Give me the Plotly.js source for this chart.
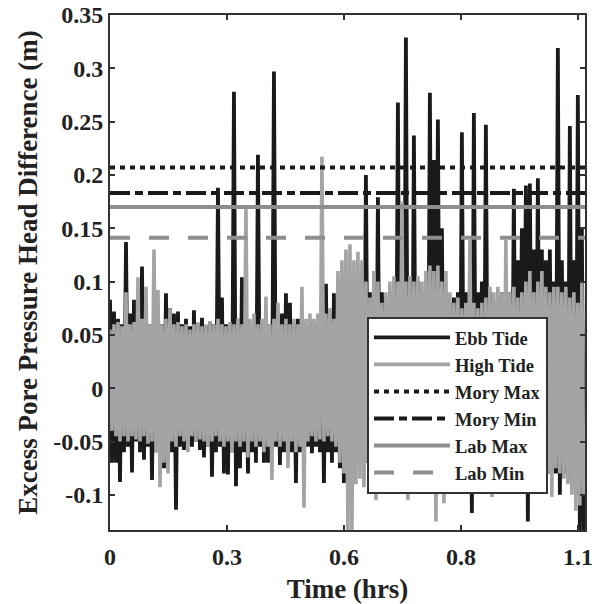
<!DOCTYPE html>
<html>
<head>
<meta charset="utf-8">
<script src="https://cdn.plot.ly/plotly-3.0.1.min.js"></script>
<style>html,body{margin:0;padding:0;background:#fff;}#chart{width:600px;height:604px;}</style>
</head>
<body>
<div id="chart"></div>
<script>
// ---- Data ----
// Sampling interval of the plotted record, in hours
const SAMPLE_STEP_HRS = 0.004748;
const X_RANGE = [0, 1.128];

// Ebb tide record: successive crest / trough readings (m)
const ebbCrests = [
  0.083,0.072,0.065,0.060,0.137,0.070,0.083,0.065,0.114,0.070,
  0.060,0.065,0.075,0.060,0.089,0.075,0.070,0.072,0.060,0.065,
  0.058,0.073,0.060,0.066,0.058,0.062,0.060,0.188,0.085,0.060,
  0.058,0.278,0.065,0.104,0.060,0.055,0.060,0.219,0.060,0.055,
  0.060,0.297,0.065,0.070,0.089,0.080,0.060,0.065,0.060,0.058,
  0.062,0.060,0.060,0.070,0.098,0.070,0.089,0.090,0.080,0.090,
  0.085,0.090,0.080,0.090,0.200,0.090,0.085,0.179,0.090,0.080,
  0.090,0.085,0.268,0.090,0.329,0.100,0.237,0.100,0.090,0.100,
  0.277,0.214,0.252,0.150,0.090,0.080,0.085,0.090,0.240,0.090,
  0.080,0.258,0.090,0.100,0.247,0.090,0.080,0.085,0.090,0.080,
  0.090,0.187,0.120,0.150,0.190,0.192,0.130,0.197,0.130,0.120,
  0.130,0.100,0.319,0.120,0.100,0.246,0.120,0.275,0.150
];
const ebbTroughs = [
  -0.070,-0.070,-0.088,-0.060,-0.055,-0.079,-0.050,-0.060,-0.067,-0.055,
  -0.086,-0.060,-0.065,-0.075,-0.055,-0.060,-0.114,-0.055,-0.058,-0.050,
  -0.055,-0.050,-0.058,-0.065,-0.055,-0.083,-0.060,-0.055,-0.080,-0.081,
  -0.060,-0.092,-0.075,-0.060,-0.080,-0.060,-0.070,-0.055,-0.070,-0.070,
  -0.060,-0.055,-0.072,-0.060,-0.065,-0.060,-0.089,-0.060,-0.060,-0.055,
  -0.061,-0.055,-0.060,-0.089,-0.060,-0.070,-0.060,-0.075,-0.089,-0.070,
  -0.060,-0.070,-0.065,-0.070,-0.070,-0.080,-0.075,-0.080,-0.070,-0.075,
  -0.080,-0.070,-0.075,-0.080,-0.085,-0.093,-0.070,-0.080,-0.075,-0.080,
  -0.070,-0.080,-0.075,-0.080,-0.070,-0.080,-0.075,-0.080,-0.070,-0.080,
  -0.117,-0.080,-0.075,-0.080,-0.070,-0.080,-0.075,-0.080,-0.070,-0.080,
  -0.075,-0.080,-0.070,-0.080,-0.125,-0.080,-0.075,-0.080,-0.070,-0.080,
  -0.075,-0.080,-0.100,-0.080,-0.085,-0.090,-0.100,-0.133,-0.133
];

// High tide record: successive crest / trough readings (m)
const highCrests = [
  0.055,0.060,0.062,0.058,0.090,0.060,0.062,0.104,0.065,0.095,
  0.060,0.130,0.092,0.060,0.065,0.075,0.060,0.062,0.058,0.060,
  0.055,0.060,0.062,0.058,0.060,0.063,0.060,0.065,0.060,0.058,
  0.062,0.060,0.065,0.060,0.170,0.065,0.070,0.060,0.065,0.086,
  0.060,0.065,0.080,0.060,0.065,0.060,0.065,0.060,0.095,0.065,
  0.070,0.065,0.070,0.217,0.070,0.075,0.065,0.110,0.120,0.130,
  0.135,0.120,0.128,0.120,0.100,0.085,0.110,0.100,0.080,0.090,
  0.100,0.105,0.100,0.175,0.100,0.105,0.100,0.105,0.100,0.110,
  0.115,0.110,0.115,0.100,0.110,0.090,0.080,0.085,0.075,0.080,
  0.139,0.080,0.075,0.080,0.085,0.095,0.090,0.095,0.090,0.139,
  0.090,0.095,0.085,0.090,0.100,0.110,0.090,0.100,0.110,0.095,
  0.090,0.095,0.095,0.090,0.095,0.085,0.090,0.080,0.100
];
const highTroughs = [
  -0.040,-0.045,-0.050,-0.045,-0.050,-0.045,-0.048,-0.050,-0.045,-0.052,
  -0.050,-0.060,-0.093,-0.070,-0.080,-0.050,-0.055,-0.045,-0.050,-0.060,
  -0.045,-0.050,-0.048,-0.050,-0.055,-0.050,-0.045,-0.050,-0.055,-0.050,
  -0.060,-0.050,-0.055,-0.050,-0.065,-0.050,-0.055,-0.050,-0.060,-0.055,
  -0.086,-0.050,-0.055,-0.050,-0.075,-0.050,-0.060,-0.055,-0.112,-0.050,
  -0.045,-0.050,-0.048,-0.050,-0.045,-0.050,-0.055,-0.070,-0.080,-0.133,
  -0.133,-0.090,-0.085,-0.093,-0.070,-0.080,-0.105,-0.070,-0.080,-0.075,
  -0.070,-0.080,-0.075,-0.070,-0.105,-0.080,-0.070,-0.075,-0.080,-0.070,
  -0.080,-0.125,-0.075,-0.108,-0.070,-0.080,-0.075,-0.080,-0.070,-0.080,
  -0.075,-0.070,-0.080,-0.075,-0.080,-0.102,-0.075,-0.070,-0.095,-0.075,
  -0.080,-0.070,-0.080,-0.075,-0.080,-0.098,-0.075,-0.080,-0.070,-0.080,
  -0.102,-0.075,-0.080,-0.085,-0.090,-0.100,-0.115,-0.110,-0.100
];

// Reference threshold levels (m)
const moryMax = 0.207;
const moryMin = 0.183;
const labMax = 0.170;
const labMin = 0.141;

// Axis ticks
const xTickVals = [0, 0.27778, 0.55556, 0.83333, 1.11111];
const xTickText = ['0', '0.3', '0.6', '0.8', '1.1'];
const yTickVals = [0.35, 0.3, 0.25, 0.2, 0.15, 0.1, 0.05, 0, -0.05, -0.1];
const yTickText = ['0.35', '0.3', '0.25', '0.2', '0.15', '0.1', '0.05', '0', '-0.05', '-0.1'];

// ---- Build ----
function interleave(a, b) {
  const out = [];
  for (let i = 0; i < Math.max(a.length, b.length); i++) {
    if (i < a.length) out.push(a[i]);
    if (i < b.length) out.push(b[i]);
  }
  return out;
}

const FONT = 'Liberation Serif, Times New Roman, serif';
const ebbY = interleave(ebbCrests, ebbTroughs);
const highY = interleave(highCrests, highTroughs);

function hline(name, v, color, dash) {
  return {
    type: 'scatter', mode: 'lines', name: name,
    x: X_RANGE, y: [v, v],
    line: {color: color, width: 4, dash: dash},
    hoverinfo: 'skip'
  };
}

const traces = [
  {type: 'scatter', mode: 'lines', name: 'Ebb Tide', x0: 0, dx: SAMPLE_STEP_HRS, y: ebbY,
   line: {color: '#1a1a1a', width: 3.8, simplify: false}},
  {type: 'scatter', mode: 'lines', name: 'High Tide', x0: 0, dx: SAMPLE_STEP_HRS, y: highY,
   line: {color: '#a3a4a6', width: 3.6, simplify: false}},
  hline('Mory Max', moryMax, '#1a1a1a', '5px,5px'),
  hline('Mory Min', moryMin, '#1a1a1a', '20px,5px,8px,5px'),
  hline('Lab Max', labMax, '#8e8e8e', 'solid'),
  hline('Lab Min', labMin, '#8e8e8e', '20px,19px')
];

const axisCommon = {
  showline: true, linecolor: '#333', linewidth: 2, mirror: 'ticks',
  ticks: 'inside', ticklen: 5, tickwidth: 2, tickcolor: '#333',
  showgrid: false, zeroline: false,
  tickfont: {family: FONT, size: 24, color: '#222', weight: 700}
};

const layout = {
  width: 600, height: 604,
  margin: {l: 110, r: 15, t: 15, b: 74},
  paper_bgcolor: '#fff', plot_bgcolor: '#fff',
  showlegend: true,
  xaxis: Object.assign({}, axisCommon, {
    range: X_RANGE, tickmode: 'array', tickvals: xTickVals, ticktext: xTickText,
    ticklabelstandoff: 4,
    title: {text: 'Time (hrs)', font: {family: FONT, size: 27, color: '#222', weight: 700}, standoff: 10}
  }),
  yaxis: Object.assign({}, axisCommon, {
    range: [-0.133, 0.35], tickmode: 'array', tickvals: yTickVals, ticktext: yTickText,
    title: {text: 'Excess Pore Pressure Head Difference (m)', font: {family: FONT, size: 27, color: '#222', weight: 700}, standoff: 8}
  }),
  legend: {
    x: 0.541, y: 0.414, xanchor: 'left', yanchor: 'top',
    bgcolor: '#fff', bordercolor: '#333', borderwidth: 2,
    font: {family: FONT, size: 18.5, color: '#222', weight: 700},
    itemwidth: 76, tracegroupgap: 0
  }
};

Plotly.newPlot('chart', traces, layout, {displayModeBar: false, staticPlot: true});
</script>
</body>
</html>
